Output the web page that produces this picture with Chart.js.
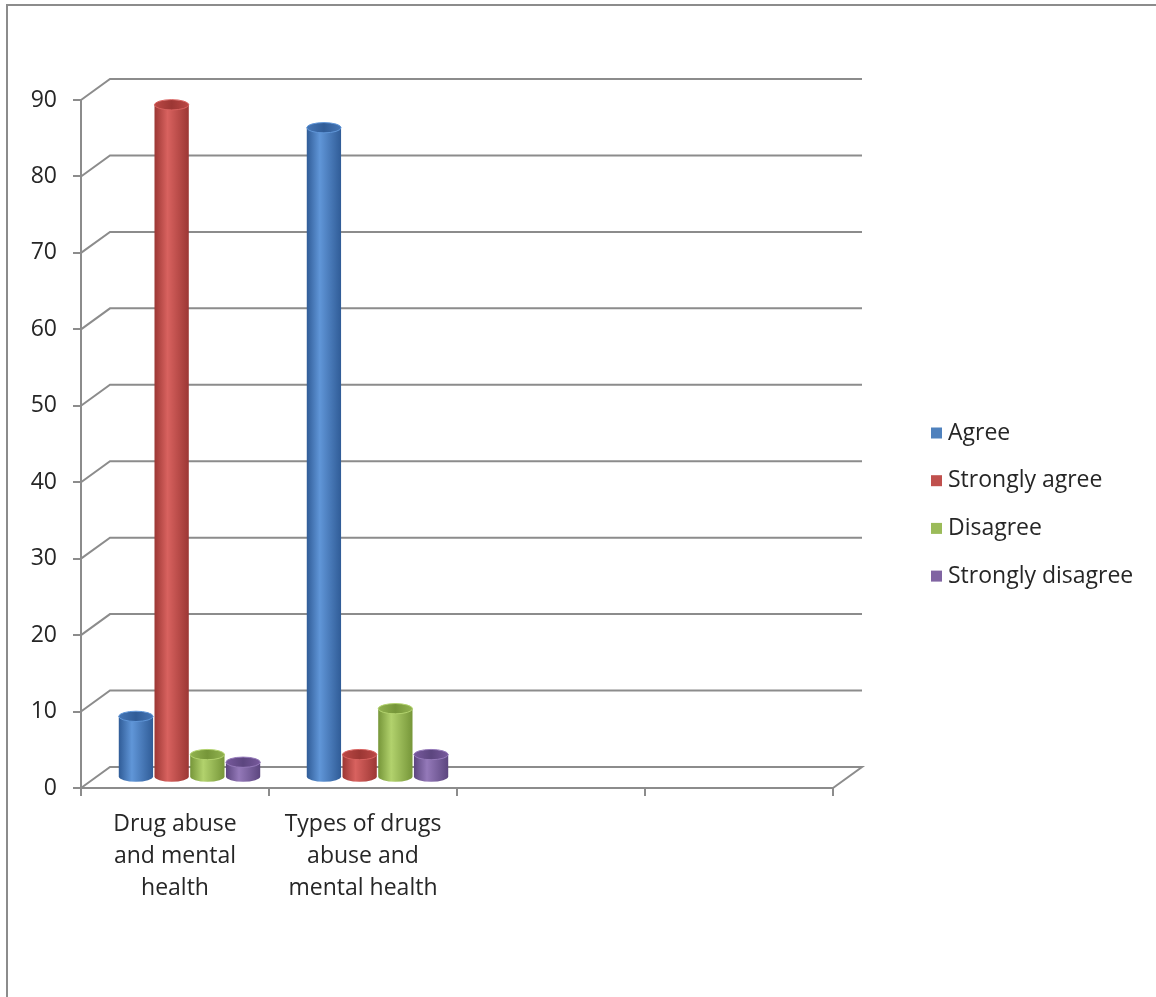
<!DOCTYPE html>
<html>
<head>
<meta charset="utf-8">
<script src="https://cdn.jsdelivr.net/npm/chart.js@4.4.0/dist/chart.umd.min.js"></script>
<style>
  html, body { margin: 0; padding: 0; background: #fff; width: 1156px; height: 997px; overflow: hidden; }
  #frame { position: absolute; left: 6px; top: 4px; width: 1170px; height: 1100px; border: 2px solid #8c8c8c; box-sizing: border-box; }
  #chart { position: absolute; left: 0; top: 0; }
</style>
</head>
<body>
<div id="frame"></div>
<canvas id="chart" width="1156" height="997"></canvas>
<script>
// ===== Data =====
const categories = [
  ["Drug abuse", "and mental", "health"],
  ["Types of drugs", "abuse and", "mental health"],
  "",
  ""
];
const seriesNames = ["Agree", "Strongly agree", "Disagree", "Strongly disagree"];
const agree = [8, 85, null, null];
const stronglyAgree = [88, 3, null, null];
const disagree = [3, 9, null, null];
const stronglyDisagree = [2, 3, null, null];
const yMax = 90;
const yStep = 10;

// ===== Styles =====
const GRID = '#8c8c8c';
const TEXT = '#262626';
const FONT = { family: 'Open Sans', size: 23 };
const DEPTH_X = 29, DEPTH_Y = 21; // offset of the back wall
const palette = [
  { base: '#4f81bd', dark: '#305c97', light: '#6096d8', cap: '#4576b6' },
  { base: '#c0504d', dark: '#9c3734', light: '#d8625f', cap: '#bb4845' },
  { base: '#9bbb59', dark: '#769639', light: '#b2d26d', cap: '#92b350' },
  { base: '#8064a2', dark: '#5c467f', light: '#9479b9', cap: '#77599c' }
];

function drawCylinder(ctx, bar, c) {
  const { x, y, base, width } = bar.getProps(['x', 'y', 'base', 'width'], true);
  const l = x - width / 2 + DEPTH_X / 2;
  const r = l + width;
  const cx = (l + r) / 2;
  const top = y - DEPTH_Y / 2;
  const bot = base - DEPTH_Y / 2;
  const rx = width / 2, ry = width * 0.15;

  const g = ctx.createLinearGradient(l, 0, r, 0);
  g.addColorStop(0, c.dark);
  g.addColorStop(0.38, c.light);
  g.addColorStop(1, c.dark);

  ctx.save();
  ctx.beginPath();
  ctx.moveTo(l, top);
  ctx.lineTo(l, bot);
  ctx.ellipse(cx, bot, rx, ry, 0, Math.PI, 0, true);
  ctx.lineTo(r, top);
  ctx.closePath();
  ctx.fillStyle = g;
  ctx.fill();

  // top cap
  const cg = ctx.createLinearGradient(l, 0, r, 0);
  cg.addColorStop(0, c.cap);
  cg.addColorStop(0.5, c.dark);
  cg.addColorStop(1, c.cap);
  ctx.beginPath();
  ctx.ellipse(cx, top, rx, ry, 0, 0, Math.PI * 2);
  ctx.fillStyle = cg;
  ctx.fill();
  ctx.lineWidth = 1;
  ctx.strokeStyle = c.light;
  ctx.stroke();
  ctx.restore();
}

// back wall, floor and cylinders
const wall3d = {
  id: 'wall3d',
  beforeDatasetsDraw(chart) {
    const { ctx, chartArea: a, scales: { y } } = chart;
    ctx.save();
    ctx.strokeStyle = GRID;
    ctx.lineWidth = 2;
    y.ticks.forEach(t => {
      const py = y.getPixelForValue(t.value);
      ctx.beginPath();
      ctx.moveTo(a.left, py);
      ctx.lineTo(a.left + DEPTH_X, py - DEPTH_Y);
      ctx.lineTo(a.right + DEPTH_X, py - DEPTH_Y);
      if (t.value === 0) ctx.lineTo(a.right, py);
      ctx.stroke();
    });
    ctx.restore();

    chart.data.datasets.forEach((ds, i) => {
      const meta = chart.getDatasetMeta(i);
      meta.data.forEach((bar, j) => {
        if (ds.data[j] == null) return;
        drawCylinder(ctx, bar, palette[i]);
      });
    });
    return false;
  },
  afterDraw(chart) {
    const { ctx } = chart;
    ctx.save();
    ctx.font = `${FONT.size}px ${FONT.family}`;
    ctx.textBaseline = 'middle';
    chart.data.datasets.forEach((ds, i) => {
      const yc = 433 + i * 47.7;
      ctx.fillStyle = ds.backgroundColor;
      ctx.fillRect(931, yc - 5.5, 11, 11);
      ctx.fillStyle = TEXT;
      ctx.fillText(ds.label, 948, yc);
    });
    ctx.restore();
  }
};

new Chart(document.getElementById('chart'), {
  type: 'bar',
  data: {
    labels: categories,
    datasets: [agree, stronglyAgree, disagree, stronglyDisagree].map((d, i) => ({
      label: seriesNames[i],
      data: d,
      backgroundColor: palette[i].base,
      categoryPercentage: 0.76,
      barPercentage: 0.96
    }))
  },
  options: {
    responsive: false,
    animation: false,
    devicePixelRatio: 1,
    layout: { padding: { top: 100, right: 323, bottom: 0, left: 0 } },
    plugins: { legend: { display: false }, tooltip: { enabled: false } },
    scales: {
      x: {
        offset: true,
        grid: { offset: true, drawOnChartArea: false, tickLength: 8, color: GRID, lineWidth: 2 },
        border: { color: GRID, width: 2 },
        ticks: { font: { ...FONT, lineHeight: 1.4 }, color: TEXT, padding: 12, maxRotation: 0, autoSkip: false },
        afterFit(s) { s.height = 209; }
      },
      y: {
        min: 0,
        max: yMax,
        grid: { drawOnChartArea: false, tickLength: 8, color: GRID, lineWidth: 2 },
        border: { color: GRID, width: 2 },
        ticks: { stepSize: yStep, font: FONT, color: TEXT, padding: 16 },
        afterFit(s) { s.width = 81; }
      }
    }
  },
  plugins: [wall3d]
});
</script>
</body>
</html>
